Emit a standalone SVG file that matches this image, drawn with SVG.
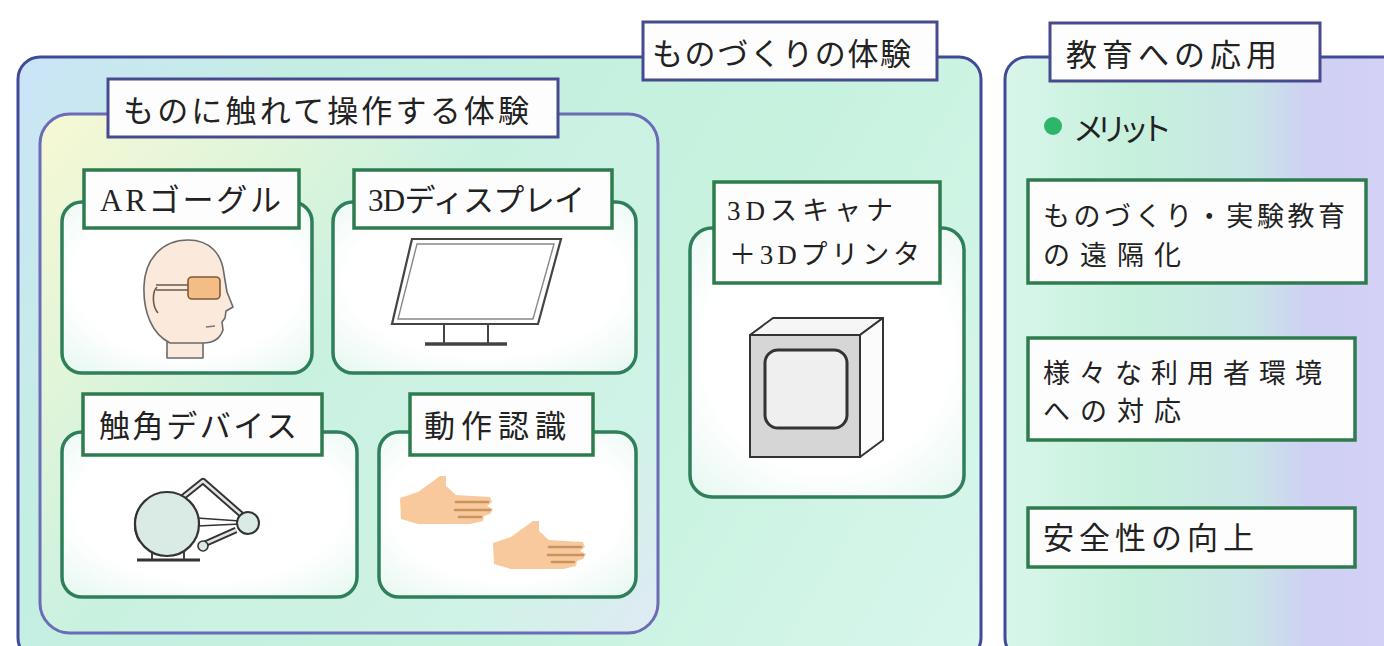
<svg xmlns="http://www.w3.org/2000/svg" width="1384" height="646" viewBox="0 0 1384 646">
  <defs>
    <linearGradient id="gMain" x1="18" y1="57" x2="981" y2="646" gradientUnits="userSpaceOnUse">
      <stop offset="0" stop-color="#cbe4f8"/>
      <stop offset="0.22" stop-color="#c4eee2"/>
      <stop offset="0.6" stop-color="#c6f2de"/>
      <stop offset="1" stop-color="#d8f6ec"/>
    </linearGradient>
    <linearGradient id="gInner" x1="40" y1="114" x2="658" y2="633" gradientUnits="userSpaceOnUse">
      <stop offset="0" stop-color="#f7f8d4"/>
      <stop offset="0.18" stop-color="#e6f6d8"/>
      <stop offset="0.45" stop-color="#c9f1e0"/>
      <stop offset="0.8" stop-color="#cff3e6"/>
      <stop offset="1" stop-color="#dfeaf4"/>
    </linearGradient>
    <linearGradient id="gRight" x1="1005" y1="0" x2="1384" y2="0" gradientUnits="userSpaceOnUse">
      <stop offset="0" stop-color="#d8f6ea"/>
      <stop offset="0.35" stop-color="#c6f0dc"/>
      <stop offset="0.65" stop-color="#c9e6e6"/>
      <stop offset="0.8" stop-color="#cfd0f3"/>
      <stop offset="1" stop-color="#d3d1f6"/>
    </linearGradient>
    <radialGradient id="gCard" cx="0.5" cy="0.45" r="0.75">
      <stop offset="0.6" stop-color="#ffffff"/>
      <stop offset="1" stop-color="#e4f7ef"/>
    </radialGradient>
    <style>
      .panel { stroke: #404a96; stroke-width: 3; }
      .inner { stroke: #6a6cb6; stroke-width: 3; }
      .card { fill: url(#gCard); stroke: #2f7f5a; stroke-width: 3.5; }
      .ptitle { fill: #fdfdfd; stroke: #474a8e; stroke-width: 3; }
      .ctitle { fill: #fdfdfd; stroke: #2e7c4e; stroke-width: 3.5; }
      .txt { font-family: "Noto Sans CJK JP", "Noto Sans", sans-serif; font-size: 31px; fill: #222; }
      .two { font-size: 27px; }
      .lat { font-family: "Liberation Serif", serif; }
      .ln { fill: none; stroke: #444; stroke-width: 2; stroke-linejoin: round; stroke-linecap: round; }
      .skin { fill: #fbe9dc; stroke: #6a6a6a; stroke-width: 1.6; stroke-linejoin: round; }
      .hand { fill: #f8c99c; }
      .finger { stroke: #c9945e; stroke-width: 2.6; stroke-linecap: round; }
    </style>
  </defs>

  <rect width="1384" height="646" fill="#ffffff"/>

  <!-- ものづくりの体験 -->
  <g id="making">
    <rect class="panel" x="18" y="57" width="963" height="603" rx="22" fill="url(#gMain)"/>
    <rect class="ptitle" x="643" y="22" width="294" height="58"/>
    <text class="txt" x="652" y="65" textLength="259" lengthAdjust="spacing">ものづくりの体験</text>
  </g>

  <!-- ものに触れて操作する体験 -->
  <g id="touch">
    <rect class="inner" x="40" y="114" width="618" height="519" rx="30" fill="url(#gInner)"/>
    <rect class="ptitle" x="108" y="79" width="450" height="58"/>
    <text class="txt" x="123" y="122" font-size="32" textLength="406" lengthAdjust="spacing">ものに触れて操作する体験</text>
  </g>

  <!-- ARゴーグル -->
  <g id="ar-goggle">
    <rect class="card" x="62" y="202" width="250" height="171" rx="20"/>
    <rect class="ctitle" x="84" y="170" width="215" height="58"/>
    <text class="txt" x="100" y="211" textLength="181" lengthAdjust="spacing"><tspan class="lat">AR</tspan>ゴーグル</text>
    <rect class="skin" x="167" y="334" width="36" height="24"/>
    <path class="skin" d="M170,343 C152,334 143,312 144,286 C145,258 163,240 188,240 C210,240 222,254 224,274 L227,292 L233,307 L226,311 L225,318 L222,322 L223,330 C220,339 212,343 203,343 Z"/>
    <path d="M206,327 L215,326" stroke="#777" stroke-width="1.4" fill="none"/>
    <path d="M156,285 H189 M156,290 H189" stroke="#6a5a4a" stroke-width="1.4" fill="none"/>
    <path d="M157,287 C152,292 152,306 158,313" stroke="#6a5a4a" stroke-width="1.6" fill="none"/>
    <rect x="188" y="277" width="32" height="22" rx="4" fill="#f3bd85" stroke="#7d5a3a" stroke-width="1.6"/>
  </g>

  <!-- 3Dディスプレイ -->
  <g id="display">
    <rect class="card" x="333" y="202" width="303" height="171" rx="20"/>
    <rect class="ctitle" x="354" y="170" width="258" height="58"/>
    <text class="txt" x="368" y="211" textLength="217" lengthAdjust="spacing"><tspan class="lat">3D</tspan>ディスプレイ</text>
    <path d="M412,239 L561,239 L538,324 L392,324 Z" fill="#ffffff" stroke="#444" stroke-width="2.2"/>
    <path d="M417,244 L554,244 L533,319 L398,319 Z" fill="none" stroke="#888" stroke-width="1.4"/>
    <path class="ln" d="M444,325 V343 M488,325 V343"/>
    <path d="M425,344 H507" stroke="#444" stroke-width="3.5"/>
  </g>

  <!-- 触角デバイス -->
  <g id="haptic">
    <rect class="card" x="62" y="432" width="295" height="165" rx="20"/>
    <rect class="ctitle" x="83" y="394" width="239" height="61"/>
    <text class="txt" x="99" y="437" textLength="198" lengthAdjust="spacing">触角デバイス</text>
    <path class="ln" d="M152,552 V560 M184,552 V560"/>
    <path d="M137,560 H200" stroke="#333" stroke-width="3.2"/>
    <path d="M183,497 L203,481 L243,516" fill="none" stroke="#333" stroke-width="6.5" stroke-linejoin="round"/>
    <path d="M183,497 L203,481 L243,516" fill="none" stroke="#e4e4e4" stroke-width="2.6" stroke-linejoin="round"/>
    <path d="M200,546 L236,530" fill="none" stroke="#333" stroke-width="6.5"/>
    <path d="M200,546 L236,530" fill="none" stroke="#e4e4e4" stroke-width="2.6"/>
    <path d="M197,518 L240,521 M197,526 L240,524" stroke="#333" stroke-width="1.6"/>
    <circle cx="167" cy="524" r="32" fill="#d9ebe4" stroke="#333" stroke-width="2.2"/>
    <path d="M139,508 C133,520 133,530 139,541" fill="none" stroke="#333" stroke-width="1.6"/>
    <circle cx="203" cy="546" r="5" fill="#d9ebe4" stroke="#333" stroke-width="1.6"/>
    <circle cx="248" cy="523" r="11" fill="#d9ebe4" stroke="#333" stroke-width="2"/>
  </g>

  <!-- 動作認識 -->
  <g id="motion">
    <rect class="card" x="379" y="432" width="257" height="165" rx="20"/>
    <rect class="ctitle" x="410" y="394" width="183" height="61"/>
    <text class="txt" x="424" y="437" textLength="142" lengthAdjust="spacing">動作認識</text>
    <g id="hand-a">
      <path class="hand" d="M400,498 L418,492 L440,476 L446,476 L446,486 L456,495 L490,497 L492,502 L487,506 L493,509 L490,514 L484,516 L483,521 L470,524 L418,524 L401,519 Z"/>
      <path class="finger" d="M456,502 H488 M455,510 H490 M459,517 H481"/>
    </g>
    <g id="hand-b" transform="translate(93,45)">
      <path class="hand" d="M400,498 L418,492 L440,476 L446,476 L446,486 L456,495 L490,497 L492,502 L487,506 L493,509 L490,514 L484,516 L483,521 L470,524 L418,524 L401,519 Z"/>
      <path class="finger" d="M456,502 H488 M455,510 H490 M459,517 H481"/>
    </g>
  </g>

  <!-- 3Dスキャナ＋3Dプリンタ -->
  <g id="scanner-printer">
    <rect class="card" x="690" y="228" width="274" height="269" rx="22"/>
    <rect class="ctitle" x="714" y="182" width="226" height="101"/>
    <text class="txt two" x="727" y="220" textLength="166" lengthAdjust="spacing"><tspan class="lat">3D</tspan>スキャナ</text>
    <text class="txt two" x="729" y="264" textLength="191" lengthAdjust="spacing">＋<tspan class="lat">3D</tspan>プリンタ</text>
    <polygon points="750,335 773,318 883,318 860,335" fill="#f6f6f6" stroke="#333" stroke-width="2" stroke-linejoin="round"/>
    <polygon points="860,335 883,318 883,440 860,457" fill="#fbfbfb" stroke="#333" stroke-width="2" stroke-linejoin="round"/>
    <rect x="750" y="335" width="110" height="122" fill="#d6d6d6" stroke="#333" stroke-width="2"/>
    <rect x="765" y="350" width="82" height="78" rx="13" fill="#efefef" stroke="#333" stroke-width="3"/>
  </g>

  <!-- 教育への応用 -->
  <g id="education">
    <rect class="panel" x="1005" y="57" width="420" height="603" rx="22" fill="url(#gRight)"/>
    <rect class="ptitle" x="1050" y="23" width="270" height="58"/>
    <text class="txt" x="1066" y="66" textLength="211" lengthAdjust="spacing">教育への応用</text>
    <circle cx="1053" cy="126" r="9" fill="#2db56a"/>
    <text class="txt" x="1073" y="140" font-size="26" textLength="99" lengthAdjust="spacing">メリット</text>
  </g>

  <g id="merit-remote">
    <rect class="ctitle" x="1028" y="180" width="338" height="103"/>
    <text class="txt two" x="1043" y="226" textLength="302" lengthAdjust="spacing">ものづくり・実験教育</text>
    <text class="txt two" x="1043" y="265" textLength="138" lengthAdjust="spacing">の遠隔化</text>
  </g>

  <g id="merit-users">
    <rect class="ctitle" x="1028" y="338" width="327" height="102"/>
    <text class="txt two" x="1043" y="383" textLength="279" lengthAdjust="spacing">様々な利用者環境</text>
    <text class="txt two" x="1043" y="421" textLength="138" lengthAdjust="spacing">への対応</text>
  </g>

  <g id="merit-safety">
    <rect class="ctitle" x="1028" y="508" width="327" height="59"/>
    <text class="txt" x="1043" y="549" textLength="211" lengthAdjust="spacing">安全性の向上</text>
  </g>
</svg>
